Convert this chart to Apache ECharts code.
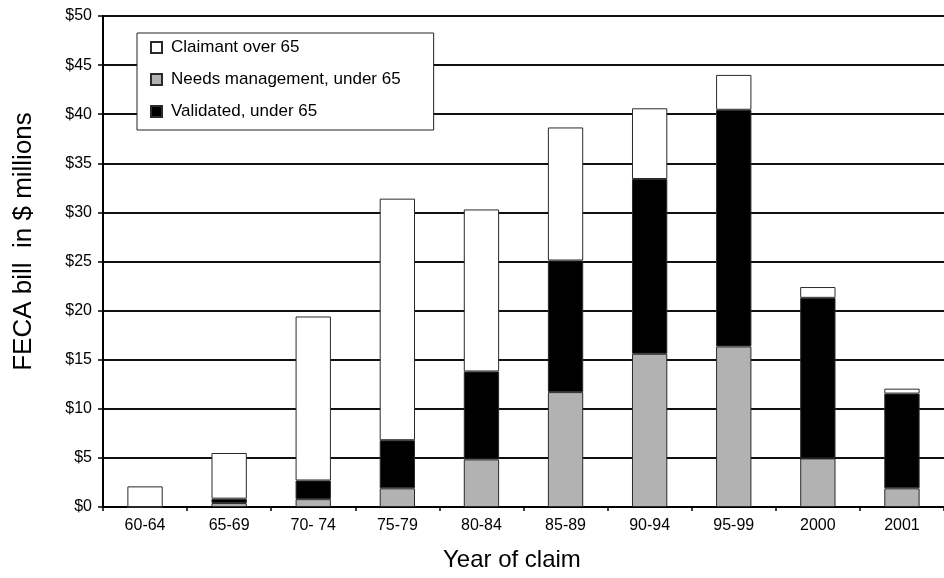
<!DOCTYPE html>
<html>
<head>
<meta charset="utf-8">
<script src="https://cdn.jsdelivr.net/npm/echarts@6/dist/echarts.min.js"></script>
<style>
  html, body { margin: 0; padding: 0; background: #fff; }
  #chart { width: 944px; height: 578px; }
</style>
</head>
<body>
<div id="chart"></div>
<script>
// Claim-year groups along the horizontal axis
var categories = ['60-64', '65-69', '70- 74', '75-79', '80-84', '85-89', '90-94', '95-99', '2000', '2001'];

// FECA bill by segment, $ millions (stacked bottom to top: needs mgmt, validated, over 65)
var needsManagement = [0, 0.4, 0.8, 1.9, 4.85, 11.7, 15.6, 16.35, 4.95, 1.9];
var validated       = [0, 0.45, 1.9, 4.9, 8.95, 13.4, 17.8, 24.1, 16.35, 9.65];
var claimantOver65  = [2.1, 4.65, 16.7, 24.6, 16.5, 13.55, 7.2, 3.55, 1.1, 0.5];

// Value axis ticks
var yTicks = [0, 5, 10, 15, 20, 25, 30, 35, 40, 45, 50];

var seriesNames = ['Claimant over 65', 'Needs management, under 65', 'Validated, under 65'];

var FONT = '"Liberation Sans", Arial, sans-serif';

var chart = echarts.init(document.getElementById('chart'), null, { renderer: 'canvas' });

var barBorder = { borderColor: '#2a2a2a', borderWidth: 1 };

chart.setOption({
  animation: false,
  backgroundColor: '#fff',
  textStyle: { fontFamily: FONT },
  grid: { left: 103, right: 0, top: 16, bottom: 71, containLabel: false },
  legend: {
    orient: 'vertical',
    left: 137,
    top: 33,
    data: seriesNames,
    backgroundColor: '#fff',
    borderColor: '#222',
    borderWidth: 1,
    padding: [6, 33, 10, 13],
    itemGap: 15,
    itemWidth: 11,
    itemHeight: 11,
    icon: 'rect',
    textStyle: { fontFamily: FONT, fontSize: 17, color: '#000', padding: [0, 0, 0, 4] }
  },
  xAxis: {
    type: 'category',
    data: categories,
    axisLine: { lineStyle: { color: '#000', width: 2 } },
    axisTick: { show: true, alignWithLabel: false, length: 4, lineStyle: { color: '#000', width: 1.5 } },
    axisLabel: { color: '#000', fontSize: 16, fontFamily: FONT, margin: 11 },
    splitLine: { show: false }
  },
  yAxis: {
    type: 'value',
    min: yTicks[0],
    max: yTicks[yTicks.length - 1],
    interval: 5,
    name: 'FECA bill  in $ millions',
    nameLocation: 'middle',
    nameGap: 66,
    nameTextStyle: { color: '#000', fontSize: 26, fontFamily: FONT, padding: [0, 0, 0, 40] },
    axisLine: { show: true, lineStyle: { color: '#000', width: 2 } },
    axisTick: { show: true, length: 5, lineStyle: { color: '#000', width: 1.5 } },
    axisLabel: {
      color: '#000', fontSize: 16, fontFamily: FONT, margin: 11,
      formatter: function (v) { return '$' + v; }
    },
    splitLine: { show: true, lineStyle: { color: '#111', width: 2 } }
  },
  graphic: [{
    type: 'text',
    left: 443,
    top: 548,
    style: { text: 'Year of claim', font: '24px ' + FONT, fill: '#000' }
  }],
  series: [
    {
      name: seriesNames[1], type: 'bar', stack: 'total', data: needsManagement,
      barWidth: '42%',
      itemStyle: Object.assign({ color: '#b2b2b2' }, barBorder)
    },
    {
      name: seriesNames[2], type: 'bar', stack: 'total', data: validated,
      barWidth: '42%',
      itemStyle: Object.assign({ color: '#000' }, barBorder)
    },
    {
      name: seriesNames[0], type: 'bar', stack: 'total', data: claimantOver65,
      barWidth: '42%',
      itemStyle: Object.assign({ color: '#fff' }, barBorder)
    }
  ]
});
</script>
</body>
</html>
